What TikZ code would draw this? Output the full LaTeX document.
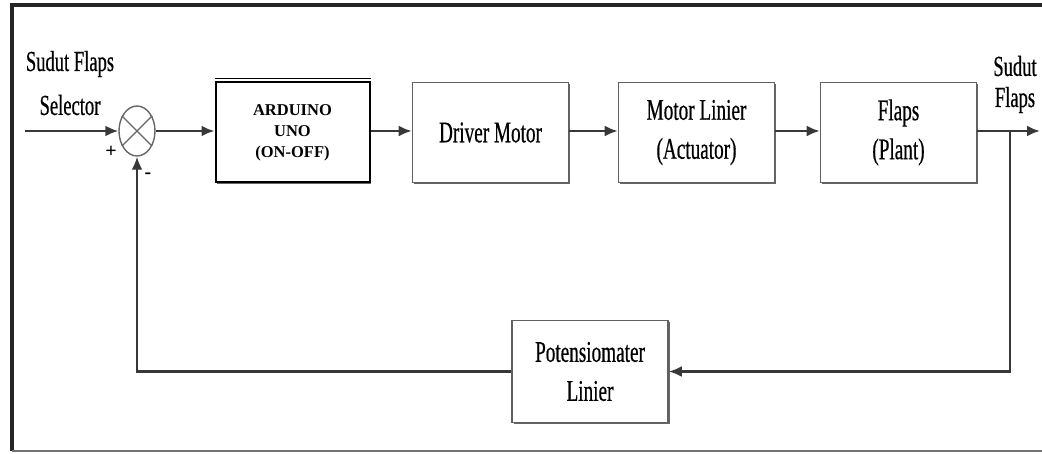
\documentclass[tikz,border=0pt]{standalone}
\usepackage{fontspec}
\setmainfont[FakeStretch=0.64,FakeBold=0.5]{Liberation Serif}
\newfontfamily\ardfont{Liberation Serif}
\usetikzlibrary{arrows.meta,shadows,shapes.geometric}

\begin{document}
\begin{tikzpicture}[x=1pt, y=-1pt, >={Latex[length=13pt,width=11pt]},
	line/.style={draw=black!78, line width=2.4pt},
	block/.style={draw=black!62, line width=1.6pt, fill=white, minimum width=156pt, minimum height=100pt, align=center,
		font=\fontsize{30}{39}\selectfont, general shadow={shadow xshift=1.6pt, shadow yshift=-1.6pt, fill=black!60}},
	lbl/.style={font=\fontsize{29}{30}\selectfont, inner sep=0pt}]
	\useasboundingbox (0,0) rectangle (1042,454);
	% frame
	\draw[line width=3.5pt, black!85] (1042,5) -- (12,5) -- (12,451);
	\draw[line width=1.5pt, black!55] (12,451) -- (1042,451);
	% forward path
	\node[ellipse, draw=black!60, line width=1.4pt, minimum width=36pt, minimum height=50pt, inner sep=0pt] (sum) at (137,131) {};
	\draw[black!60, line width=1.2pt] (sum.45) -- (sum.225) (sum.135) -- (sum.315);
	\node[block, draw=black, line width=2pt, minimum width=154pt, font=\ardfont\bfseries\fontsize{16.5}{21}\selectfont] (arduino) at (292.5,132.5) {ARDUINO\\UNO\\(ON-OFF)};
	\draw[line width=1.4pt] ([yshift=2.8pt]arduino.north west) -- ([yshift=2.8pt]arduino.north east);
	\node[block] (driver) at (490.5,132.5) {Driver Motor};
	\node[block] (motor) at (696.5,132.5) {Motor Linier\\(Actuator)};
	\node[block] (flaps) at (898.5,132.5) {Flaps\\(Plant)};
	% feedback path
	\node[block, minimum height=102pt] (pot) at (590,371.5) {Potensiomater\\Linier};
	\coordinate (in) at (25,131);
	\coordinate (tap) at (1010,131);
	\coordinate (out) at (1040,131);
	\draw[line,->] (in) -- (sum.west);
	\draw[line,->] (sum.east) -- (arduino.west |- sum.east);
	\draw[line,->] (arduino.east |- sum.east) -- (driver.west |- sum.east);
	\draw[line,->] (driver.east |- sum.east) -- (motor.west |- sum.east);
	\draw[line,->] (motor.east |- sum.east) -- (flaps.west |- sum.east);
	\draw[line,->] (flaps.east |- sum.east) -- (out);
	\draw[line,->] (tap) |- (pot.east);
	\draw[line,->] (pot.west) -| (sum.south);
	% signal labels
	\node[lbl] (setIn) at (70,64) {Sudut Flaps};
	\node[lbl] (setSel) at (70,105) {Selector};
	\node[font=\ardfont\bfseries\fontsize{20}{20}\selectfont, inner sep=0pt] (plus) at (111,152) {+};
	\node[font=\ardfont\bfseries\fontsize{20}{20}\selectfont, inner sep=0pt] (minus) at (148,176) {-};
	\node[lbl] (outA) at (1015,66) {Sudut};
	\node[lbl] (outB) at (1015,100) {Flaps};
\end{tikzpicture}
\end{document}
